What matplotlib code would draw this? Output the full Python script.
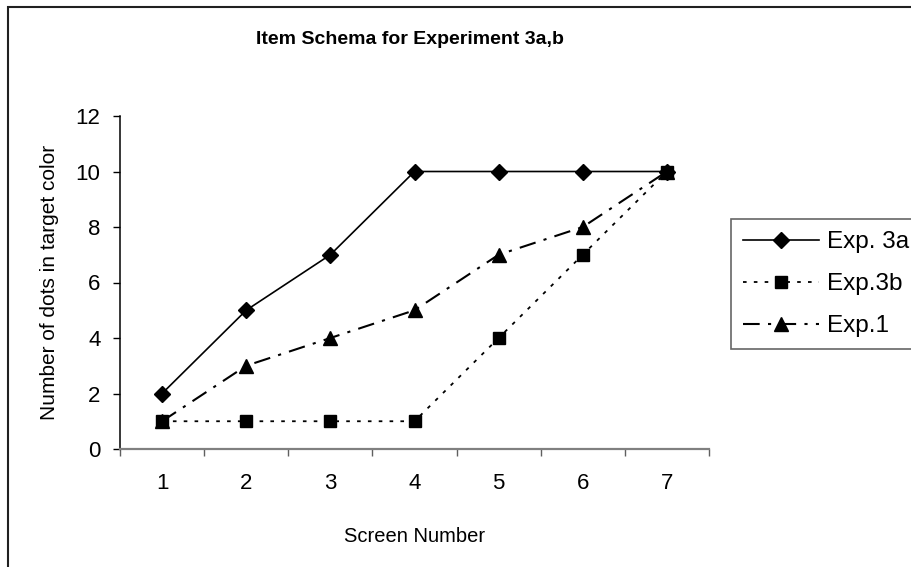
import matplotlib.pyplot as plt
from matplotlib.patches import Rectangle

screens = [1, 2, 3, 4, 5, 6, 7]
exp3a = [2, 5, 7, 10, 10, 10, 10]
exp3b = [1, 1, 1, 1, 4, 7, 10]
exp1 = [1, 3, 4, 5, 7, 8, 10]
labels = ["Exp. 3a", "Exp.3b", "Exp.1"]

plt.rcParams['font.family'] = ['Liberation Sans', 'DejaVu Sans']

W, H = 911, 567
fig = plt.figure(figsize=(W/100, H/100), dpi=100)
ax = fig.add_axes([120/W, 1-449/H, (709-120)/W, (449-116)/H])

ax.plot(screens, exp3a, color='black', lw=1.2, marker='D', ms=8.5, label=labels[0])
ax.plot(screens, exp3b, color='black', lw=1.3, ls=(0, (2, 4)), marker='s', ms=9, label=labels[1])
ax.plot(screens, exp1, color='black', lw=1.5, ls=(0, (8, 4, 1.5, 4)), marker='^', ms=10, label=labels[2])

ax.set_xlim(0.5, 7.5)
ax.set_ylim(0, 12)
ax.set_yticks(range(0, 13, 2))
ax.set_xticks(screens)
ax.set_xticks([i + 0.5 for i in range(0, 8)], minor=True)
ax.tick_params(axis='x', which='major', length=0, pad=17, labelsize=16)
ax.tick_params(axis='x', which='minor', length=5, width=1, color='#606060')
ax.tick_params(axis='y', length=5, width=1, pad=9, labelsize=16)

for s in ['top', 'right']:
    ax.spines[s].set_visible(False)
ax.spines['bottom'].set_color('#808080')
ax.spines['bottom'].set_linewidth(1.6)
ax.spines['left'].set_linewidth(1.1)

ax.set_xlabel("Screen Number", fontsize=14.5)
ax.xaxis.set_label_coords(0.5, -0.235)
ax.set_ylabel("Number of dots in target color", fontsize=15)
ax.yaxis.set_label_coords(-0.104, 0.5)

fig.text(410/W, 1-40/H, "Item Schema for Experiment 3a,b", ha='center', va='center',
         fontsize=14, fontweight='bold')

leg = ax.legend(loc='upper left', bbox_to_anchor=(731/W, 1-219/H), bbox_transform=fig.transFigure,
                fontsize=17.5, frameon=True, fancybox=False, handlelength=3.1, handletextpad=0.35,
                labelspacing=0.82, borderpad=0.5, borderaxespad=0)
leg.get_frame().set_edgecolor('#404040')
leg.get_frame().set_linewidth(1.2)

fig.patches.append(Rectangle((8/W, -0.1), 1.1, 1 - 7/H + 0.1, transform=fig.transFigure,
                             fill=False, edgecolor='#202020', lw=1.5))

fig.savefig("out.png", dpi=100)
